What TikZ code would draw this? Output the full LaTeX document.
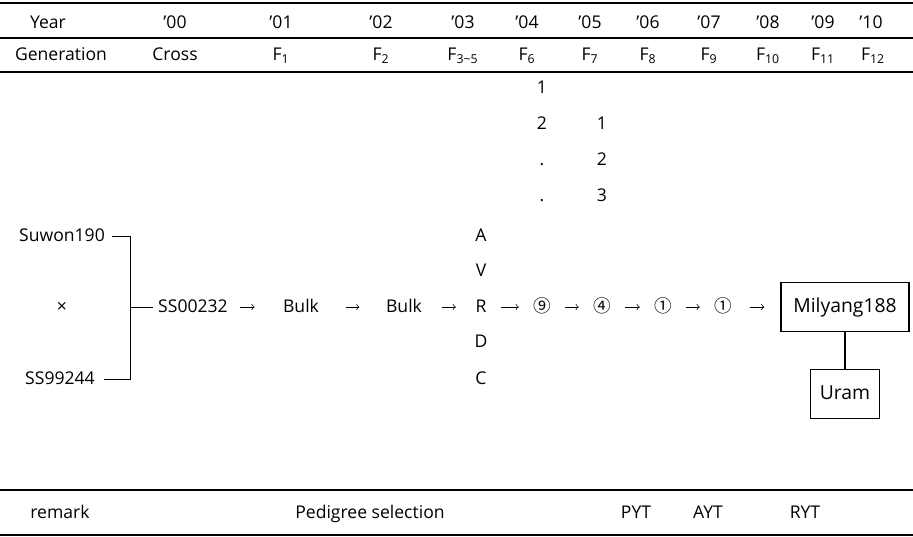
\documentclass[tikz,border=0pt]{standalone}
\usepackage{fontspec}
\setmainfont{Open Sans}
\newfontfamily\circfont{Noto Sans CJK KR}
\usetikzlibrary{arrows, positioning}

\begin{document}
\begin{tikzpicture}[>=to, x=0.02cm, y=-0.02cm,
    every node/.style={font=\fontsize{10}{12}\selectfont, inner sep=1pt,
        text height=1.5ex, text depth=.25ex},
    rule/.style={line width=1pt},
    flow/.style={->, shorten <=#1, shorten >=#1}, flow/.default=7pt,
    plant/.style={draw, line width=.8pt, font=\fontsize{11}{13}\selectfont,
        minimum height=28pt}]
  \useasboundingbox (0,0) rectangle (913,537);
  % table rules
  \draw[rule] (0,3) -- (913,3);
  \draw[line width=.8pt] (0,38) -- (913,38);
  \draw[line width=.8pt] (0,72) -- (913,72);
  \draw[rule] (0,490) -- (913,490);
  \draw[rule] (0,535) -- (913,535);
  % header
  \foreach \x/\t [count=\i] in {48/Year, 175/’00, 281/’01, 381/’02, 463/’03,
      527/’04, 590/’05, 648/’06, 709/’07, 768/’08, 823/’09, 871/’10}
    \node (yr\i) at (\x,23) {\t};
  \foreach \x/\t [count=\i] in {61/Generation, 175/Cross, 281/F\textsubscript{1},
      381/F\textsubscript{2}, 463/F\textsubscript{3{\char126}5}, 527/F\textsubscript{6},
      590/F\textsubscript{7}, 648/F\textsubscript{8}, 709/F\textsubscript{9},
      768/F\textsubscript{10}, 823/F\textsubscript{11}, 873/F\textsubscript{12}}
    \node (gen\i) at (\x,55) {\t};
  % selected lines
  \foreach \y/\t [count=\i] in {88/1, 124/2, 160/., 196/.}
    \node (ln\i) at (542,\y) {\t};
  \foreach \y/\t [count=\i] in {124/1, 160/2, 196/3}
    \node (lm\i) at (602,\y) {\t};
  % cross
  \node (suwon) at (62,236) {Suwon190};
  \node (times) at (62,307) {×};
  \node (ss99) at (60,379) {SS99244};
  \coordinate (jn) at (130,307);
  \draw (suwon.east) [shorten <=3pt] -| (jn);
  \draw (ss99.east) [shorten <=4pt] -| (jn);
  \node (ss00) at (193,307) {SS00232};
  \draw (jn) [shorten >=2pt] -- (ss00.west);
  % pedigree
  \node (bulk1) at (301,307) {Bulk};
  \node (bulk2) at (404,307) {Bulk};
  \foreach \y/\t in {236/A, 271/V, 307/R, 342/D, 379/C}
    \node (trait\t) at (481,\y) {\t};
  \node (s9) at (542,307) {\circfont ⑨};
  \node (s4) at (602,307) {\circfont ④};
  \node (s1a) at (663,307) {\circfont ①};
  \node (s1b) at (723,307) {\circfont ①};
  \node[plant, minimum width=73pt] (mil) at (845,307) {Milyang188};
  \node[plant, minimum width=39pt] (uram) at (845,394) {Uram};
  \draw[line width=.8pt] (mil) -- (uram);
  \draw[flow, shorten <=6pt, shorten >=15pt] (ss00) -- (bulk1);
  \draw[flow=14pt] (bulk1) -- (bulk2);
  \draw[flow=10pt] (bulk2) -- (traitR);
  \draw[flow] (traitR) -- (s9);
  \draw[flow] (s9) -- (s4);
  \draw[flow] (s4) -- (s1a);
  \draw[flow] (s1a) -- (s1b);
  \draw[flow=9pt] (s1b) -- (mil);
  % remark
  \node (remark) at (60,513) {remark};
  \node (pedsel) at (370,513) {Pedigree selection};
  \node (pyt) at (636,513) {PYT};
  \node (ayt) at (708,513) {AYT};
  \node (ryt) at (805,513) {RYT};
\end{tikzpicture}
\end{document}
